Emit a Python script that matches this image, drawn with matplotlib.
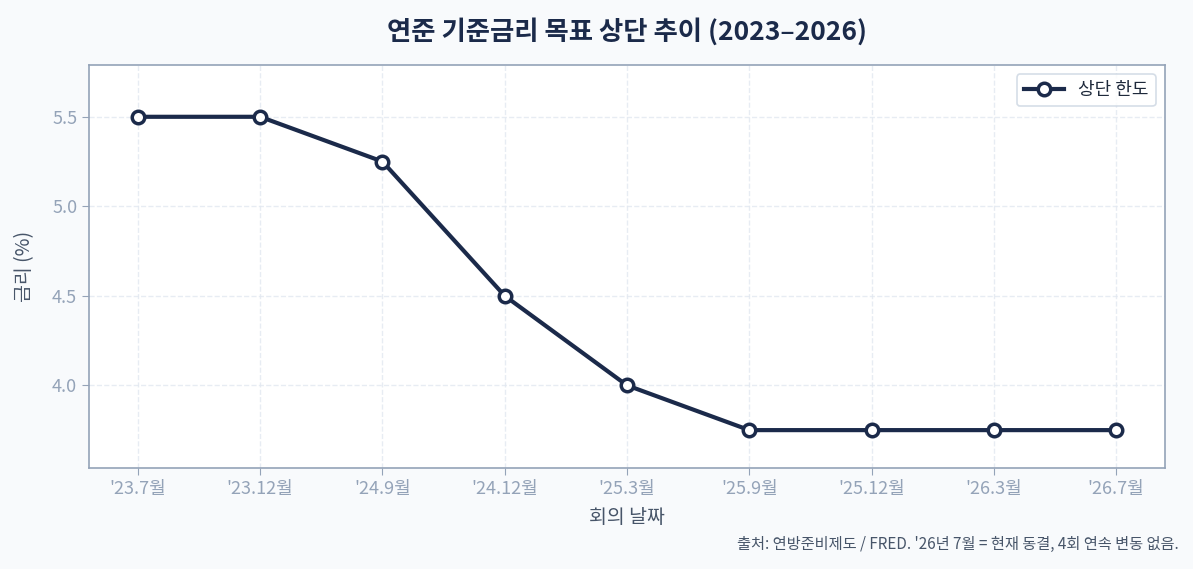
import matplotlib
matplotlib.use("Agg")
import matplotlib.pyplot as plt

plt.rcParams['font.family'] = ['Noto Sans CJK KR', 'DejaVu Sans']

# Data
meetings = ["'23.7월", "'23.12월", "'24.9월", "'24.12월", "'25.3월",
            "'25.9월", "'25.12월", "'26.3월", "'26.7월"]
upper_rate = [5.50, 5.50, 5.25, 4.50, 4.00, 3.75, 3.75, 3.75, 3.75]

navy = '#1b2a4a'
muted = '#94a3b8'

fig, ax = plt.subplots(figsize=(11.93, 5.69), dpi=100)
fig.patch.set_facecolor('#f8fafc')
ax.set_facecolor('white')
fig.subplots_adjust(left=0.0746, right=0.9765, top=0.886, bottom=0.178)

x = list(range(len(meetings)))
ax.plot(x, upper_rate, color=navy, lw=3, marker='o', markersize=9,
        markerfacecolor='white', markeredgecolor=navy, markeredgewidth=2.5,
        label='상단 한도', zorder=3)

ax.set_xticks(x)
ax.set_xticklabels(meetings)
ax.set_xlim(-0.4, 8.4)
ax.set_ylim(3.54, 5.79)
ax.set_yticks([4.0, 4.5, 5.0, 5.5])

ax.grid(True, linestyle='--', color='#e2e8f0', lw=1, alpha=0.8)
ax.set_axisbelow(True)
for s in ax.spines.values():
    s.set_color(muted)
    s.set_linewidth(1.2)
ax.tick_params(colors=muted, labelsize=13, length=5)
for lbl in ax.get_xticklabels() + ax.get_yticklabels():
    lbl.set_color(muted)

ax.set_title('연준 기준금리 목표 상단 추이 (2023–2026)', fontsize=19,
             fontweight='bold', color=navy, pad=18)
ax.set_xlabel('회의 날짜', fontsize=14, color='#475569', labelpad=7)
ax.set_ylabel('금리 (%)', fontsize=14, color='#475569', labelpad=12)

leg = ax.legend(loc='upper right', fontsize=13, frameon=True,
                handlelength=2.2, borderpad=0.4)
leg.get_frame().set_edgecolor('#cbd5e1')
leg.get_frame().set_linewidth(1.2)
for t in leg.get_texts():
    t.set_color('#1e293b')

fig.text(0.988, 0.028, "출처: 연방준비제도 / FRED. '26년 7월 = 현재 동결, 4회 연속 변동 없음.",
         ha='right', va='bottom', fontsize=11, color='#475569')

fig.savefig('out.png', dpi=100, facecolor=fig.get_facecolor())
